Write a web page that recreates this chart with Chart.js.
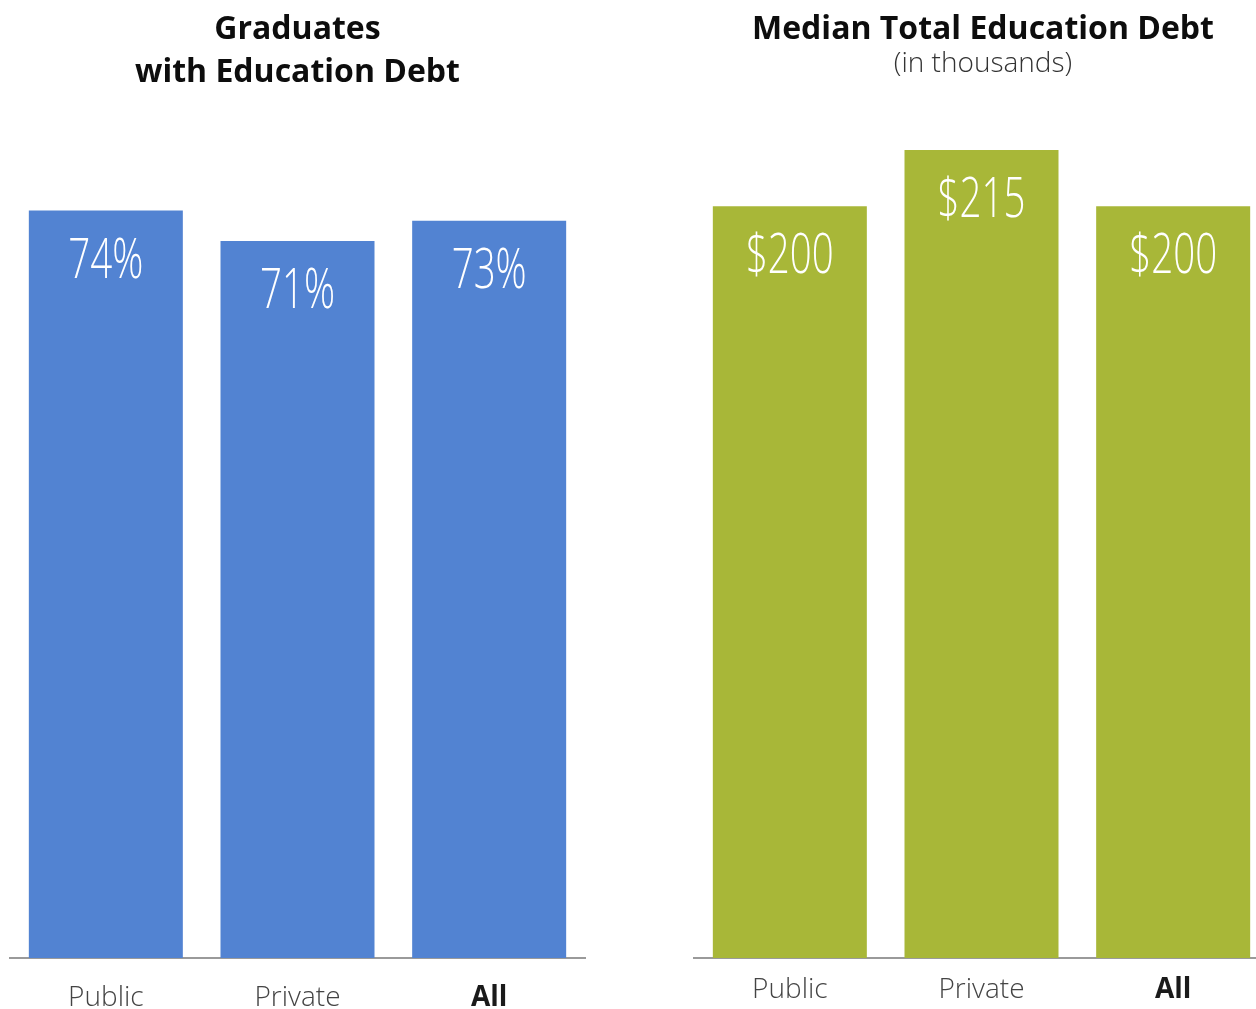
<!DOCTYPE html>
<html>
<head>
<meta charset="utf-8">
<title>Graduates with Education Debt</title>
<script src="https://cdn.jsdelivr.net/npm/chart.js@4.4.1/dist/chart.umd.min.js"></script>
<style>
  html, body { margin: 0; padding: 0; background: #fff; }
  body { width: 1256px; height: 1009px; overflow: hidden; position: relative; }
  canvas { position: absolute; top: 0; }
  #shareChart { left: 0; }
  #debtChart { left: 680px; }
</style>
</head>
<body>
<canvas id="shareChart" width="600" height="1009"></canvas>
<canvas id="debtChart" width="600" height="1009"></canvas>
<script>
// Categories shared by both panels
const categories = ['Public', 'Private', 'All'];

// Share of graduates with education debt (%)
const shareWithDebt = [74, 71, 73];
const shareLabels = ['74%', '71%', '73%'];

// Median total education debt (thousands of dollars)
const medianDebt = [200, 215, 200];
const debtLabels = ['$200', '$215', '$200'];

// Panel headings
const shareTitle = ['Graduates', 'with Education Debt'];
const debtTitle = ['Median Total Education Debt'];
const debtSubtitle = '(in thousands)';

const BLUE = '#5283d2';
const GREEN = '#a8b738';

// Draws the heading lines centred over the plot
const headingPlugin = {
  id: 'heading',
  afterDraw(chart, args, opts) {
    const ctx = chart.ctx;
    const cx = (chart.chartArea.left + chart.chartArea.right) / 2 + (opts.shift || 0);
    ctx.save();
    ctx.textAlign = 'center';
    ctx.textBaseline = 'alphabetic';
    ctx.fillStyle = '#0d0d0d';
    ctx.font = '700 32px "Open Sans"';
    opts.lines.forEach((line, i) => {
      ctx.fillText(line, cx, opts.baseline + i * opts.lineGap);
    });
    if (opts.sub) {
      ctx.fillStyle = '#333';
      ctx.font = '300 28px "Open Sans"';
      ctx.fillText(opts.sub, cx, opts.subBaseline);
    }
    ctx.restore();
  }
};

// Writes each bar's value inside the top of the bar, in a condensed face
const valueLabelPlugin = {
  id: 'valueLabels',
  afterDatasetsDraw(chart, args, opts) {
    const ctx = chart.ctx;
    const meta = chart.getDatasetMeta(0);
    ctx.save();
    ctx.fillStyle = '#ffffff';
    ctx.font = '350 55px "Open Sans"';
    ctx.textAlign = 'center';
    ctx.textBaseline = 'alphabetic';
    meta.data.forEach((bar, i) => {
      ctx.save();
      ctx.translate(bar.x, bar.y + opts.offset);
      ctx.scale(0.7, 1);
      ctx.fillText(opts.labels[i], 0, 0);
      ctx.restore();
    });
    ctx.restore();
  }
};

function makeChart(canvasId, values, color, yMax, pad, tickPad, heading, labels) {
  return new Chart(document.getElementById(canvasId), {
    type: 'bar',
    data: {
      labels: categories,
      datasets: [{
        data: values,
        backgroundColor: color,
        borderWidth: 0,
        barPercentage: 0.8035,
        categoryPercentage: 1.0
      }]
    },
    options: {
      responsive: false,
      animation: false,
      devicePixelRatio: 1,
      layout: { padding: { left: pad.left, right: pad.right, top: 150, bottom: 0 } },
      plugins: {
        legend: { display: false },
        tooltip: { enabled: false },
        title: { display: false },
        heading: heading,
        valueLabels: { labels: labels, offset: 67 }
      },
      scales: {
        y: {
          display: false,
          min: 0,
          max: yMax
        },
        x: {
          offset: true,
          grid: { display: false },
          border: { display: true, color: '#9a9a9a', width: 2 },
          afterFit(scale) { scale.height = 51; },
          ticks: {
            padding: tickPad,
            color: (c) => c.index === 2 ? '#1a1a1a' : '#444',
            font: (c) => ({
              family: '"Open Sans"',
              size: 28,
              weight: c.index === 2 ? 'bold' : '300'
            })
          }
        }
      }
    },
    plugins: [headingPlugin, valueLabelPlugin]
  });
}

makeChart('shareChart', shareWithDebt, BLUE, 80, { left: 10, right: 15 }, 15,
  { lines: shareTitle, baseline: 39, lineGap: 43, shift: 0 }, shareLabels);

makeChart('debtChart', medianDebt, GREEN, 215, { left: 14, right: 11 }, 7,
  { lines: debtTitle, baseline: 39, lineGap: 43, shift: 1.5, sub: debtSubtitle, subBaseline: 72 }, debtLabels);
</script>
</body>
</html>
